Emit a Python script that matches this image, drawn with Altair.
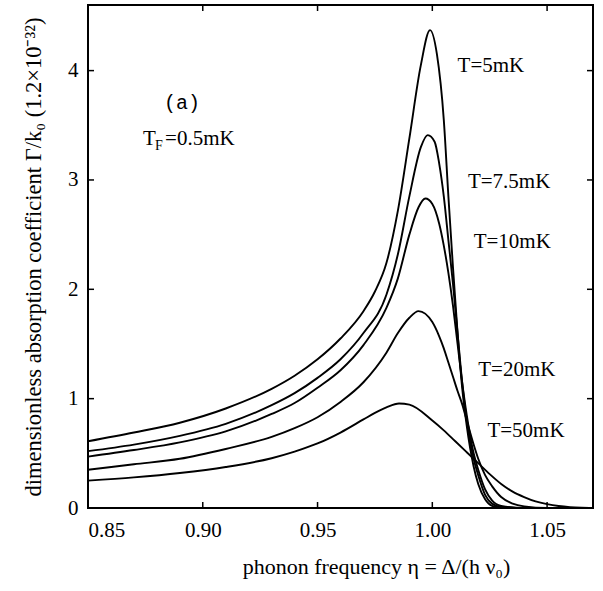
import altair as alt
import pandas as pd

# ---- data ----
x_ticks = [0.85, 0.90, 0.95, 1.00, 1.05]
y_ticks = [0, 1, 2, 3, 4]

eta_5 = [0.85, 0.87, 0.89, 0.91, 0.93, 0.94, 0.95, 0.96, 0.97, 0.975, 0.98, 0.985, 0.99, 0.995, 0.999,
         1.002, 1.005, 1.007, 1.009, 1.011, 1.013, 1.015, 1.018, 1.02, 1.023, 1.026, 1.03, 1.04, 1.07]
val_5 = [0.61, 0.69, 0.78, 0.91, 1.09, 1.21, 1.36, 1.55, 1.80, 1.98, 2.24, 2.72, 3.38, 4.05, 4.37,
         4.15, 3.55, 2.85, 2.20, 1.60, 1.10, 0.75, 0.38, 0.22, 0.08, 0.02, 0.005, 0.0, 0.0]

eta_75 = [0.85, 0.87, 0.89, 0.91, 0.93, 0.94, 0.95, 0.96, 0.97, 0.98, 0.985, 0.99, 0.995, 0.998,
          1.001, 1.003, 1.005, 1.007, 1.009, 1.011, 1.013, 1.015, 1.018, 1.02, 1.023, 1.026, 1.03, 1.04, 1.07]
val_75 = [0.52, 0.58, 0.66, 0.77, 0.94, 1.05, 1.19, 1.36, 1.60, 1.95, 2.32, 2.85, 3.30, 3.41,
          3.35, 3.15, 2.85, 2.45, 2.05, 1.60, 1.15, 0.80, 0.45, 0.30, 0.12, 0.04, 0.01, 0.0, 0.0]

eta_10 = [0.85, 0.87, 0.89, 0.91, 0.93, 0.94, 0.95, 0.96, 0.97, 0.98, 0.985, 0.99, 0.994, 0.997,
          1.0, 1.003, 1.005, 1.007, 1.009, 1.011, 1.013, 1.015, 1.018, 1.02, 1.023, 1.026, 1.03, 1.04, 1.07]
val_10 = [0.47, 0.53, 0.60, 0.70, 0.86, 0.96, 1.10, 1.26, 1.49, 1.83, 2.10, 2.50, 2.75, 2.83,
          2.78, 2.60, 2.40, 2.15, 1.85, 1.50, 1.15, 0.85, 0.50, 0.35, 0.17, 0.07, 0.02, 0.0, 0.0]

eta_20 = [0.85, 0.87, 0.89, 0.91, 0.93, 0.94, 0.95, 0.96, 0.97, 0.98, 0.985, 0.99, 0.994,
          1.0, 1.003, 1.005, 1.007, 1.009, 1.011, 1.013, 1.015, 1.018, 1.02, 1.023, 1.026, 1.03, 1.035, 1.04, 1.05, 1.07]
val_20 = [0.35, 0.40, 0.45, 0.54, 0.65, 0.73, 0.83, 0.97, 1.15, 1.42, 1.60, 1.74, 1.80,
          1.70, 1.57, 1.46, 1.33, 1.20, 1.07, 0.95, 0.80, 0.58, 0.45, 0.30, 0.20, 0.10, 0.04, 0.015, 0.0, 0.0]

eta_50 = [0.85, 0.87, 0.89, 0.91, 0.93, 0.94, 0.95, 0.96, 0.97, 0.975, 0.98, 0.9855, 0.99, 1.0, 1.005, 1.01,
          1.015, 1.02, 1.025, 1.03, 1.035, 1.04, 1.045, 1.05, 1.055, 1.06, 1.065, 1.07]
val_50 = [0.25, 0.28, 0.32, 0.375, 0.455, 0.515, 0.59, 0.69, 0.81, 0.87, 0.92, 0.955, 0.945, 0.80, 0.71, 0.61,
          0.51, 0.41, 0.31, 0.22, 0.15, 0.10, 0.06, 0.035, 0.018, 0.008, 0.003, 0.001]

series = [("T=5mK", eta_5, val_5), ("T=7.5mK", eta_75, val_75), ("T=10mK", eta_10, val_10),
          ("T=20mK", eta_20, val_20), ("T=50mK", eta_50, val_50)]

label_text = ["T=5mK", "T=7.5mK", "T=10mK", "T=20mK", "T=50mK"]
label_eta = [1.011, 1.0155, 1.018, 1.020, 1.024]
label_val = [4.04, 2.98, 2.43, 1.26, 0.70]

rows = []
for name, xs, ys in series:
    for a, b in zip(xs, ys):
        rows.append({"T": name, "eta": a, "val": b})
df = pd.DataFrame(rows)

W, H = 505, 503
SERIF = "Liberation Serif"

xscale = alt.Scale(domain=[0.85, 1.07], nice=False, zero=False)
yscale = alt.Scale(domain=[0, 4.6], nice=False)
x_axis = alt.Axis(values=x_ticks, format=".2f", title="phonon frequency  η  =  Δ/(h ν₀)",
                  titlePadding=16, labelFont=SERIF, titleFont=SERIF, labelFontSize=21,
                  titleFontSize=22, labelPadding=11, titleFontWeight="normal",
                  labelColor="black", titleColor="black", titleX=288, titleAnchor="middle")
y_axis = alt.Axis(values=y_ticks, format="d",
                  title="dimensionless absorption coefficient   Γ/k₀   (1.2×10⁻³²)",
                  titlePadding=22, labelFont=SERIF, titleFont=SERIF, labelFontSize=21,
                  titleFontSize=22.5, labelPadding=10, titleFontWeight="normal",
                  labelColor="black", titleColor="black")


def X(field):
    return alt.X(field, scale=xscale, axis=x_axis)


def Y(field):
    return alt.Y(field, scale=yscale, axis=y_axis)


lines = alt.Chart(df).mark_line(color="black", strokeWidth=1.9, interpolate="monotone", clip=True).encode(
    x=X("eta:Q"), y=Y("val:Q"), detail="T:N")

xt = pd.DataFrame({"eta": x_ticks})
yt = pd.DataFrame({"val": y_ticks})
tick_bottom = alt.Chart(xt).mark_rule(color="black", strokeWidth=1.5).encode(
    x=X("eta:Q"), y=alt.value(H), y2=alt.value(H - 6))
tick_top = alt.Chart(xt).mark_rule(color="black", strokeWidth=1.5).encode(
    x=X("eta:Q"), y=alt.value(0), y2=alt.value(6))
tick_left = alt.Chart(yt).mark_rule(color="black", strokeWidth=1.5).encode(
    y=Y("val:Q"), x=alt.value(0), x2=alt.value(6))
tick_right = alt.Chart(yt).mark_rule(color="black", strokeWidth=1.5).encode(
    y=Y("val:Q"), x=alt.value(W), x2=alt.value(W - 6))

lab_df = pd.DataFrame({"t": label_text, "eta": label_eta, "val": label_val})
labels = alt.Chart(lab_df).mark_text(font=SERIF, fontSize=21, color="black", align="left",
                                     baseline="middle").encode(
    x=X("eta:Q"), y=Y("val:Q"), text="t:N")

ann_a = pd.DataFrame({"t": ["(a)"], "eta": [0.891], "val": [3.70]})
a_mark = alt.Chart(ann_a).mark_text(font="Liberation Mono", fontSize=20, color="black",
                                    align="center", baseline="middle").encode(
    x=X("eta:Q"), y=Y("val:Q"), text="t:N")

tf_df = pd.DataFrame({"eta": [0.874], "val": [3.37], "a": ["T"], "b": ["F"], "c": ["=0.5mK"]})
tf_T = alt.Chart(tf_df).mark_text(font=SERIF, fontSize=21, color="black", align="left",
                                  baseline="middle").encode(x=X("eta:Q"), y=Y("val:Q"), text="a:N")
tf_F = alt.Chart(tf_df).mark_text(font=SERIF, fontSize=14, color="black", align="left",
                                  baseline="middle", dx=12, dy=7).encode(x=X("eta:Q"), y=Y("val:Q"), text="b:N")
tf_C = alt.Chart(tf_df).mark_text(font=SERIF, fontSize=21, color="black", align="left",
                                  baseline="middle", dx=22).encode(x=X("eta:Q"), y=Y("val:Q"), text="c:N")

chart = alt.layer(lines, tick_bottom, tick_top, tick_left, tick_right, labels, a_mark,
                  tf_T, tf_F, tf_C).properties(
    width=W, height=H,
    autosize=alt.AutoSizeParams(type="none"),
    padding={"left": 88, "top": 5, "right": 10, "bottom": 83},
    background="white",
).configure_view(stroke="black", strokeWidth=2).configure_axis(
    domain=False, ticks=False, grid=False,
)

chart.save("out.html", embed_options={"renderer": "svg", "actions": False})
